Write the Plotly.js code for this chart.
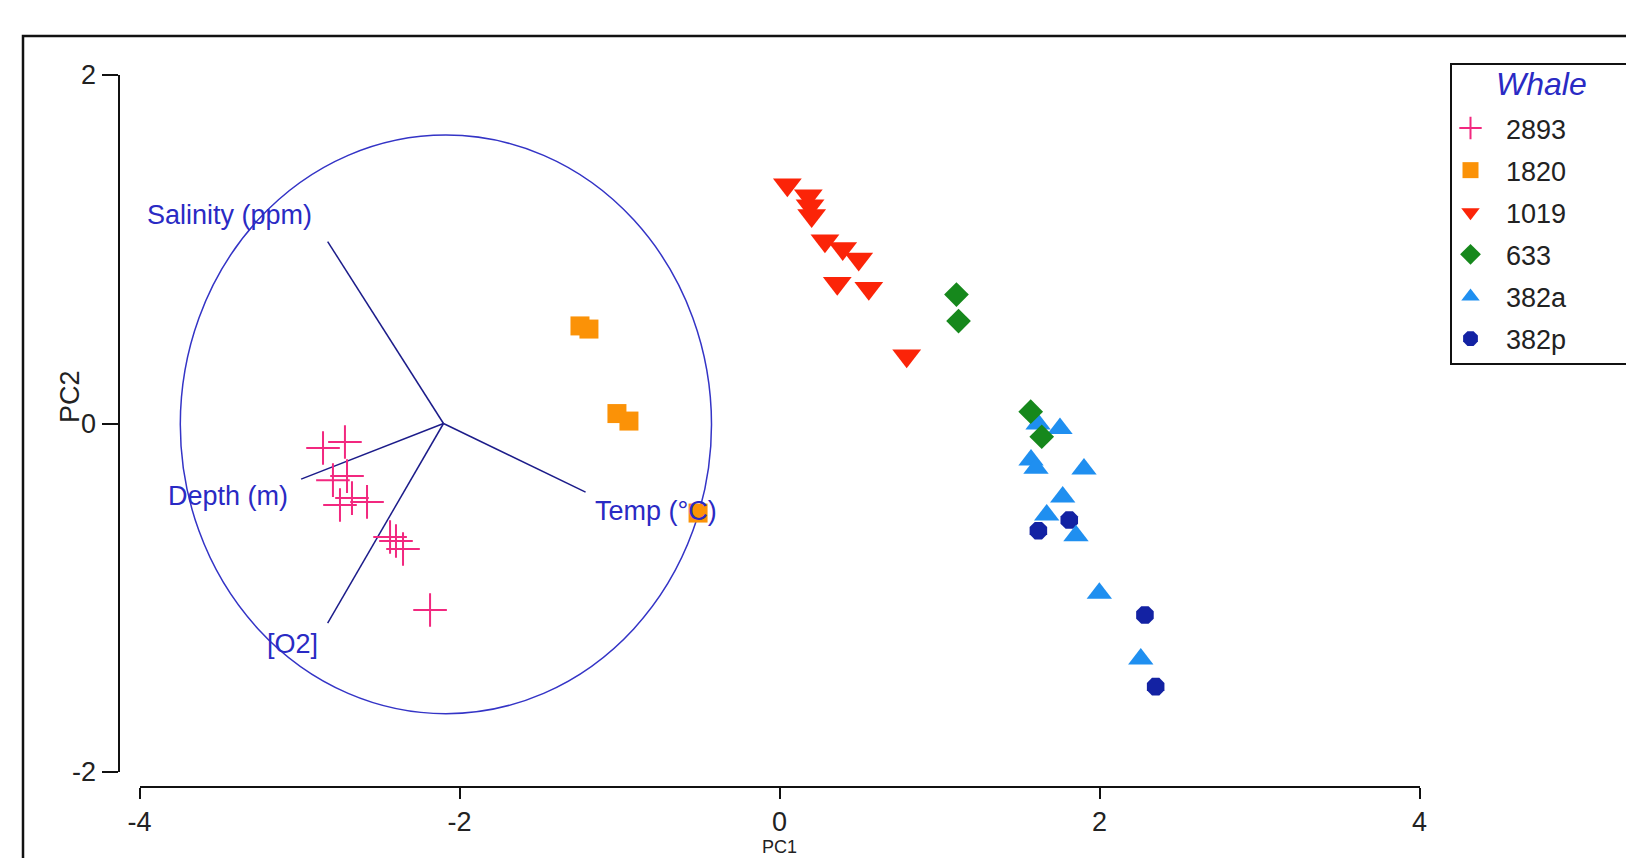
<!DOCTYPE html>
<html>
<head>
<meta charset="utf-8">
<script src="https://cdn.plot.ly/plotly-3.0.1.min.js"></script>
<style>
  html, body { margin: 0; padding: 0; background: #ffffff; }
  #chart { width: 1626px; height: 858px; }
</style>
</head>
<body>
<div id="chart"></div>
<script>
// ---- data ----
const whaleNames = ['2893', '1820', '1019', '633', '382a', '382p'];

const w2893_x = [-2.853, -2.716, -2.791, -2.703, -2.747, -2.672, -2.578, -2.434, -2.397, -2.353, -2.184];
const w2893_y = [-0.141, -0.106, -0.325, -0.302, -0.468, -0.428, -0.450, -0.651, -0.674, -0.720, -1.070];

const w1820_x = [-1.247, -1.191, -1.016, -0.941, -0.509];
const w1820_y = [0.560, 0.542, 0.057, 0.014, -0.514];

const w1019_x = [0.049, 0.180, 0.191, 0.201, 0.284, 0.395, 0.495, 0.361, 0.558, 0.795];
const w1019_y = [1.370, 1.307, 1.250, 1.193, 1.049, 1.005, 0.944, 0.805, 0.776, 0.389];

const w633_x = [1.106, 1.119, 1.570, 1.639];
const w633_y = [0.740, 0.588, 0.068, -0.076];

const w382a_x = [1.616, 1.753, 1.572, 1.603, 1.903, 1.770, 1.670, 1.853, 1.999, 2.258];
const w382a_y = [-0.003, -0.028, -0.209, -0.257, -0.261, -0.422, -0.525, -0.644, -0.974, -1.351];

const w382p_x = [1.618, 1.811, 2.284, 2.351];
const w382p_y = [-0.615, -0.554, -1.099, -1.510];

// loading vectors (biplot arrows) drawn from the circle centre
const loadCenter = [-2.10, 0.0];
const loadNames = ['Salinity (ppm)', 'Depth (m)', 'Temp (°C)', '[O2]'];
const loadEndX = [-2.824, -2.990, -1.212, -2.824];
const loadEndY = [1.044, -0.319, -0.394, -1.146];
// label anchors (left edge, middle)
const loadLabelX = [-3.966, -3.834, -1.166, -3.216];
const loadLabelY = [1.199, -0.416, -0.502, -1.265];

// correlation circle
const circleCenter = [-2.085, -0.005];
const circleRadius = 1.66;

const xTicks = [-4, -2, 0, 2, 4];
const yTicks = [-2, 0, 2];

// ---- page geometry ----
const W = 1626, H = 858;
const px = v => v / W;            // pixel x -> paper
const py = v => (H - v) / H;      // pixel y -> paper

const BLUE_TXT = '#2a2ac4';
const FONT = '"Liberation Sans", Arial, sans-serif';

// loading lines as one trace with gaps
const lx = [], ly = [];
for (let i = 0; i < loadEndX.length; i++) {
  lx.push(loadCenter[0], loadEndX[i], null);
  ly.push(loadCenter[1], loadEndY[i], null);
}

const traces = [
  { x: lx, y: ly, mode: 'lines', type: 'scatter', showlegend: false, hoverinfo: 'skip',
    line: { color: '#1c1c8a', width: 1.5 } },
  { name: whaleNames[5], legendgroup: 'g6', legendrank: 6, x: w382p_x, y: w382p_y, mode: 'markers', type: 'scatter',
    marker: { symbol: 'octagon', size: 19, color: '#1322a3', line: { width: 0 } } },
  { name: whaleNames[4], legendgroup: 'g5', legendrank: 5, x: w382a_x, y: w382a_y, mode: 'markers', type: 'scatter',
    marker: { symbol: 'triangle-up', size: 22, color: '#1f8ff0', line: { width: 0 } } },
  { name: whaleNames[3], legendgroup: 'g4', legendrank: 4, x: w633_x, y: w633_y, mode: 'markers', type: 'scatter',
    marker: { symbol: 'diamond', size: 19, color: '#16881c', line: { width: 0 } } },
  { name: whaleNames[2], legendgroup: 'g3', legendrank: 3, x: w1019_x, y: w1019_y, mode: 'markers', type: 'scatter',
    marker: { symbol: 'triangle-down', size: 25, color: '#fb2408', line: { width: 0 } } },
  { name: whaleNames[1], legendgroup: 'g2', legendrank: 2, x: w1820_x, y: w1820_y, mode: 'markers', type: 'scatter',
    marker: { symbol: 'square', size: 19, color: '#fb9207', line: { width: 0 } } },
  { name: whaleNames[0], legendgroup: 'g1', legendrank: 1, x: w2893_x, y: w2893_y, mode: 'markers', type: 'scatter',
    marker: { symbol: 'cross-thin', size: 24, color: '#f2287f', line: { width: 2, color: '#f2287f' } } }
];

const xDom = [px(139.5), px(1419.5)];
const yDom = [py(772), py(75)];
const xPos = py(786.7);
const yPos = px(118.5);

const annotations = loadNames.map((t, i) => ({
  text: t, x: loadLabelX[i], y: loadLabelY[i], xref: 'x', yref: 'y',
  xanchor: 'left', yanchor: 'middle', showarrow: false,
  font: { family: FONT, size: 27, color: BLUE_TXT }
}));
annotations.push(
  { text: 'PC2', xref: 'paper', yref: 'paper', x: px(70), y: py(397), textangle: -90,
    xanchor: 'center', yanchor: 'middle', showarrow: false,
    font: { family: FONT, size: 27, color: '#222' } },
  { text: 'PC1', xref: 'x', yref: 'paper', x: 0, y: py(858),
    xanchor: 'center', yanchor: 'bottom', showarrow: false, borderpad: 0,
    font: { family: FONT, size: 18, color: '#222' } },
  { text: 'Whale', xref: 'paper', yref: 'paper', x: px(1541), y: py(84),
    xanchor: 'center', yanchor: 'middle', showarrow: false,
    font: { family: FONT, size: 32, color: BLUE_TXT, style: 'italic' } }
);

const layout = {
  width: W, height: H,
  margin: { l: 0, r: 0, t: 0, b: 0, pad: 0 },
  paper_bgcolor: '#ffffff', plot_bgcolor: 'rgba(0,0,0,0)',
  showlegend: true,
  hovermode: false,
  xaxis: {
    domain: xDom, range: [-4, 4], anchor: 'free', position: xPos,
    tickmode: 'array', tickvals: xTicks, ticktext: xTicks.map(String),
    ticks: 'outside', ticklen: 11, tickwidth: 2, tickcolor: '#111',
    showline: true, linecolor: '#111', linewidth: 2,
    showgrid: false, zeroline: false,
    tickfont: { family: FONT, size: 27, color: '#222' }
  },
  xaxis2: {
    domain: xDom, range: [-4, 4], anchor: 'free', position: xPos, overlaying: 'x',
    tickmode: 'array', tickvals: xTicks, showticklabels: false,
    ticks: 'inside', ticklen: 15, tickwidth: 2, tickcolor: '#111',
    showline: false, showgrid: false, zeroline: false
  },
  yaxis: {
    domain: yDom, range: [-2, 2], anchor: 'free', position: yPos,
    tickmode: 'array', tickvals: yTicks, ticktext: yTicks.map(String),
    ticks: 'outside', ticklen: 16, tickwidth: 2, tickcolor: '#111',
    showline: true, linecolor: '#111', linewidth: 2,
    showgrid: false, zeroline: false,
    tickfont: { family: FONT, size: 27, color: '#222' }
  },
  yaxis2: {
    domain: yDom, range: [-2, 2], anchor: 'free', position: yPos, overlaying: 'y',
    tickmode: 'array', tickvals: yTicks, showticklabels: false,
    ticks: 'inside', ticklen: 5, tickwidth: 2, tickcolor: '#111',
    showline: false, showgrid: false, zeroline: false
  },
  legend: {
    x: px(1435), y: py(104), xanchor: 'left', yanchor: 'top',
    traceorder: 'grouped', tracegroupgap: 4,
    bgcolor: 'rgba(0,0,0,0)', borderwidth: 0,
    itemwidth: 61, itemclick: false, itemdoubleclick: false,
    font: { family: FONT, size: 27, color: '#222' }
  },
  shapes: [
    { type: 'circle', xref: 'x', yref: 'y', layer: 'below',
      x0: circleCenter[0] - circleRadius, x1: circleCenter[0] + circleRadius,
      y0: circleCenter[1] - circleRadius, y1: circleCenter[1] + circleRadius,
      line: { color: '#3434c6', width: 1.5 } },
    { type: 'rect', xref: 'paper', yref: 'paper',
      x0: px(23), x1: px(1660), y0: py(900), y1: py(36),
      line: { color: '#111', width: 2.5 } },
    { type: 'rect', xref: 'paper', yref: 'paper',
      x0: px(1451), x1: px(1660), y0: py(364), y1: py(64),
      line: { color: '#111', width: 2 } }
  ],
  annotations: annotations
};

Plotly.newPlot('chart', traces, layout, { displayModeBar: false, staticPlot: true });
</script>
</body>
</html>
